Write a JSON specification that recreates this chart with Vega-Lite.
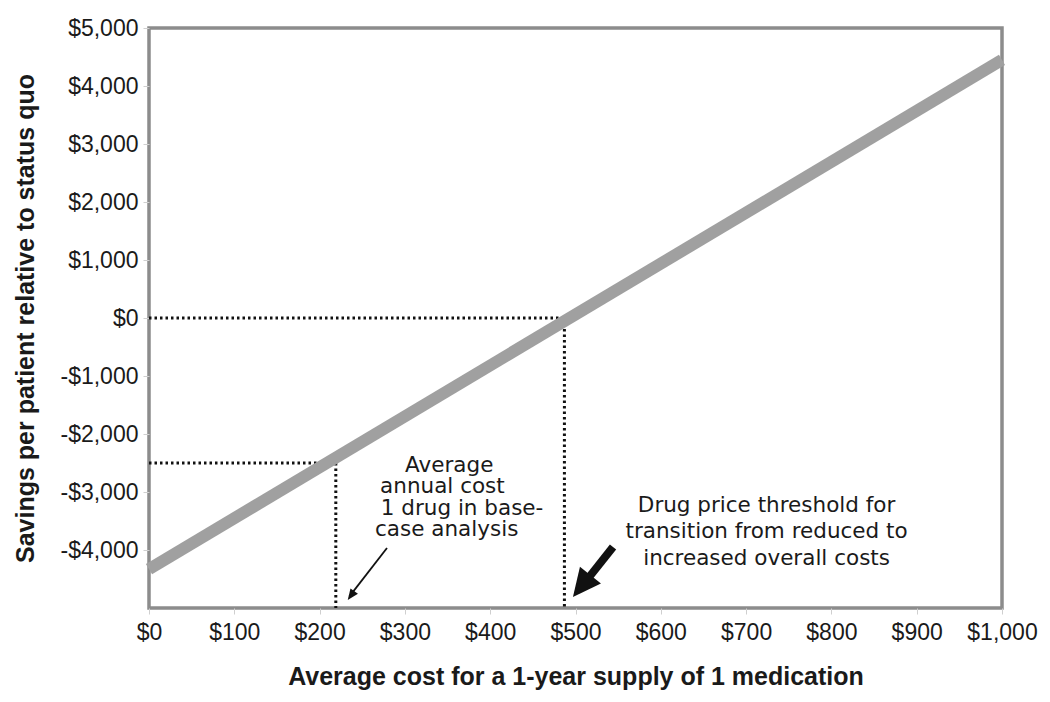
{
  "$schema": "https://vega.github.io/schema/vega-lite/v6.json",
  "width": 853,
  "height": 580,
  "autosize": "none",
  "padding": {"left": 149, "top": 28, "right": 48, "bottom": 94},
  "background": "white",
  "config": {
    "view": {"stroke": "#8c8c8c", "strokeWidth": 3.5},
    "axis": {
      "grid": false,
      "domain": false,
      "labelFont": "Liberation Sans",
      "labelFontSize": 23,
      "labelColor": "#1a1a1a",
      "titleFont": "Liberation Sans",
      "titleFontSize": 25,
      "titleFontWeight": "bold",
      "titleColor": "#1a1a1a",
      "tickColor": "#cfcfcf",
      "tickSize": 6,
      "labelFlush": false,
      "labelOverlap": false
    }
  },
  "datasets": {
    "main": [{"x": 0, "y": -4330}, {"x": 1000, "y": 4450}],
    "dotted": [
      {"x": 0, "y": 0, "x2": 487, "y2": 0},
      {"x": 487, "y": 0, "x2": 487, "y2": -5000},
      {"x": 0, "y": -2500, "x2": 219, "y2": -2500},
      {"x": 219, "y": -2500, "x2": 219, "y2": -5000}
    ],
    "thinShaft": [{"x": 279, "y": -3966, "x2": 235, "y2": -4800}],
    "thinHead": [{"x": 233, "y": -4862}],
    "boldShaft": [{"x": 544, "y": -3948, "x2": 512, "y2": -4541}],
    "boldHead": [{"x": 497, "y": -4810}],
    "note1": [
      {"x": 352, "y": -2655, "label": "Average"},
      {"x": 344, "y": -3017, "label": "annual cost"},
      {"x": 367, "y": -3397, "label": "1 drug in base-"},
      {"x": 349, "y": -3759, "label": "case analysis"}
    ],
    "note2": [
      {"x": 724, "y": -3345, "label": "Drug price threshold for"},
      {"x": 724, "y": -3793, "label": "transition from reduced to"},
      {"x": 724, "y": -4259, "label": "increased overall costs"}
    ]
  },
  "layer": [
    {
      "data": {"name": "dotted"},
      "mark": {"type": "rule", "color": "#111111", "strokeWidth": 3, "strokeDash": [2.5, 3]},
      "encoding": {
        "x": {
          "field": "x", "type": "quantitative",
          "scale": {"domain": [0, 1000], "nice": false, "zero": false},
          "axis": {
            "values": [0, 100, 200, 300, 400, 500, 600, 700, 800, 900, 1000],
            "labelExpr": "'$' + format(datum.value, ',')",
            "labelPadding": 7,
            "title": "Average cost for a 1-year supply of 1 medication",
            "titlePadding": 20
          }
        },
        "y": {
          "field": "y", "type": "quantitative",
          "scale": {"domain": [-5000, 5000], "nice": false, "zero": false},
          "axis": {
            "values": [-4000, -3000, -2000, -1000, 0, 1000, 2000, 3000, 4000, 5000],
            "labelExpr": "(datum.value < 0 ? '-' : '') + '$' + format(abs(datum.value), ',')",
            "labelPadding": 5,
            "title": "Savings per patient relative to status quo",
            "titlePadding": 21
          }
        },
        "x2": {"field": "x2"},
        "y2": {"field": "y2"}
      }
    },
    {
      "data": {"name": "main"},
      "mark": {"type": "line", "color": "#a0a0a0", "strokeWidth": 12, "strokeCap": "butt"},
      "encoding": {
        "x": {"field": "x", "type": "quantitative"},
        "y": {"field": "y", "type": "quantitative"}
      }
    },
    {
      "data": {"name": "thinShaft"},
      "mark": {"type": "rule", "color": "#111111", "strokeWidth": 1.8},
      "encoding": {
        "x": {"field": "x", "type": "quantitative"},
        "y": {"field": "y", "type": "quantitative"},
        "x2": {"field": "x2"},
        "y2": {"field": "y2"}
      }
    },
    {
      "data": {"name": "thinHead"},
      "mark": {"type": "point", "shape": "M0,0 L0.42,1 L-0.42,1 Z", "size": 484, "filled": true, "opacity": 1, "color": "#111111", "angle": 216},
      "encoding": {
        "x": {"field": "x", "type": "quantitative"},
        "y": {"field": "y", "type": "quantitative"}
      }
    },
    {
      "data": {"name": "boldShaft"},
      "mark": {"type": "rule", "color": "#111111", "strokeWidth": 8},
      "encoding": {
        "x": {"field": "x", "type": "quantitative"},
        "y": {"field": "y", "type": "quantitative"},
        "x2": {"field": "x2"},
        "y2": {"field": "y2"}
      }
    },
    {
      "data": {"name": "boldHead"},
      "mark": {"type": "point", "shape": "M0,0 L0.48,1 L-0.48,1 Z", "size": 3136, "filled": true, "opacity": 1, "color": "#111111", "angle": 218.7},
      "encoding": {
        "x": {"field": "x", "type": "quantitative"},
        "y": {"field": "y", "type": "quantitative"}
      }
    },
    {
      "data": {"name": "note1"},
      "mark": {"type": "text", "font": "DejaVu Sans", "fontSize": 21.5, "color": "#1a1a1a", "align": "center", "baseline": "alphabetic"},
      "encoding": {
        "x": {"field": "x", "type": "quantitative"},
        "y": {"field": "y", "type": "quantitative"},
        "text": {"field": "label"}
      }
    },
    {
      "data": {"name": "note2"},
      "mark": {"type": "text", "font": "DejaVu Sans", "fontSize": 21.5, "color": "#1a1a1a", "align": "center", "baseline": "alphabetic"},
      "encoding": {
        "x": {"field": "x", "type": "quantitative"},
        "y": {"field": "y", "type": "quantitative"},
        "text": {"field": "label"}
      }
    }
  ]
}
